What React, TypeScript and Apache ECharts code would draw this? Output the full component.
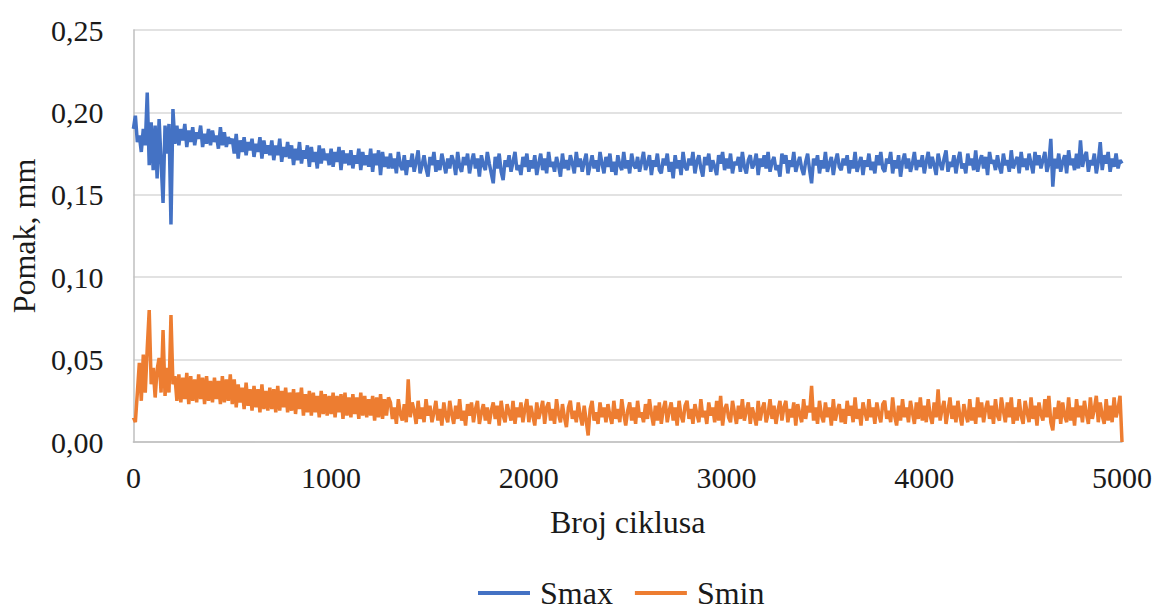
import React, { useEffect, useRef } from "react";
import * as echarts from "echarts";

// Sampling step of the readings (cycles between points)
const cycleStep = 10;

// Smax readings in micrometres (0.001 mm), one every 10 cycles, 0..5000
const smaxUm: number[] = [
  190,198,182,186,176,190,180,212,168,194,
  165,192,160,196,170,145,192,175,193,132,
  202,181,192,180,190,183,193,179,189,182,
  191,180,188,184,192,179,187,181,190,180,
  189,182,186,178,191,180,188,179,185,181,
  184,175,187,172,183,176,185,174,182,177,
  184,173,181,176,185,172,183,175,180,174,
  183,171,180,174,184,170,179,173,182,172,
  180,168,178,171,182,169,177,172,180,167,
  179,170,176,166,180,169,178,171,175,168,
  178,167,176,170,179,165,177,169,175,168,
  177,166,174,169,178,165,176,168,174,167,
  178,164,175,168,177,162,176,167,173,166,
  175,166,172,163,176,168,165,174,162,171,
  167,175,164,170,177,163,168,174,166,161,
  173,168,176,164,171,165,175,169,163,172,
  166,174,170,162,176,167,164,173,168,175,
  163,170,175,166,172,161,174,168,165,176,
  169,163,157,173,166,175,164,159,171,167,
  174,164,170,176,165,168,162,173,167,175,
  164,171,166,174,162,169,175,165,172,163,
  176,167,170,164,173,168,161,175,166,171,
  165,174,169,163,176,167,172,164,170,175,
  162,168,174,166,171,164,176,169,163,173,
  167,175,164,170,162,174,168,165,176,166,
  171,163,175,168,166,173,164,170,176,165,
  169,174,162,171,167,175,165,163,172,168,
  175,164,170,160,174,166,171,162,176,167,
  165,172,168,176,163,170,174,166,161,173,
  168,175,164,171,167,162,174,169,176,165,
  172,166,175,163,170,168,173,164,176,167,
  163,171,174,166,169,175,162,172,167,174,
  166,176,164,170,173,165,168,161,175,169,
  174,163,171,167,176,164,169,173,166,162,
  170,175,165,157,172,168,174,163,171,166,
  176,164,169,173,162,170,175,167,165,172,
  168,174,163,171,166,176,164,169,173,162,
  171,167,175,165,170,163,174,168,176,166,
  164,172,169,176,163,171,166,174,161,170,
  175,166,172,164,169,176,165,171,167,174,
  163,170,176,166,173,168,162,175,169,165,
  172,177,164,170,167,174,163,171,176,166,
  169,163,175,168,172,165,177,164,170,174,
  166,173,162,176,169,171,165,174,167,163,
  175,168,171,164,177,166,170,173,163,176,
  167,172,165,175,169,163,176,168,174,166,
  171,176,164,169,184,155,172,166,175,164,
  170,174,163,177,168,172,165,175,166,183,
  167,173,176,164,171,168,175,163,170,182,
  165,174,169,176,164,172,167,175,166,171,
  169,
];

// Smin readings in micrometres (0.001 mm), one every 10 cycles, 0..5000
const sminUm: number[] = [
  15,12,30,48,25,53,30,57,80,35,
  45,27,44,51,30,68,28,45,30,77,
  35,40,25,41,24,39,26,42,23,40,
  25,38,24,41,26,39,23,40,25,37,
  24,39,26,37,23,40,24,38,25,41,
  23,38,21,35,24,33,20,36,22,32,
  19,34,21,32,18,35,20,31,19,33,
  20,32,18,34,19,31,21,33,18,30,
  19,32,17,30,20,33,16,29,18,31,
  16,30,18,28,15,31,17,29,16,28,
  17,30,15,28,18,29,14,30,16,27,
  15,29,17,27,14,30,16,28,15,26,
  16,28,13,27,15,29,14,26,16,27,
  24,14,21,11,26,17,13,23,12,38,
  15,24,19,11,25,14,21,12,26,16,
  22,12,18,25,13,20,10,24,16,12,
  25,17,11,22,14,26,13,19,10,23,
  16,24,12,20,25,11,18,23,13,21,
  11,19,24,14,22,10,25,16,12,23,
  18,13,25,11,21,15,24,12,20,26,
  12,22,16,10,24,14,19,25,11,21,
  24,13,20,11,26,17,12,23,15,9,
  21,25,14,19,12,24,16,10,22,13,
  4,20,25,13,18,11,24,15,21,12,
  23,16,11,25,14,20,12,26,17,10,
  19,24,13,21,11,25,15,18,12,23,
  14,26,17,10,22,13,24,11,20,25,
  12,19,24,13,21,10,25,16,12,22,
  25,14,20,11,23,17,12,26,15,19,
  11,24,16,21,12,25,13,28,10,20,
  23,15,12,25,18,11,22,14,26,13,
  19,24,11,21,16,10,25,13,20,24,
  12,17,26,14,22,11,19,25,13,21,
  25,12,20,15,24,10,23,17,12,26,
  14,22,18,34,13,21,11,25,16,12,
  24,15,21,10,26,13,19,23,12,20,
  11,25,16,22,12,27,14,20,10,24,
  18,13,26,15,21,11,24,17,12,23,
  25,14,19,12,27,16,10,22,13,26,
  15,21,12,25,18,11,24,14,27,13,
  22,12,26,16,11,24,15,32,13,20,
  25,11,19,27,14,22,12,25,16,10,
  23,17,12,26,13,21,11,27,15,24,
  12,20,25,14,22,11,26,16,13,27,
  19,12,24,15,27,11,21,13,26,16,
  11,25,18,12,27,14,22,10,24,17,
  13,26,15,28,12,7,21,14,25,11,
  24,16,12,27,13,21,10,26,15,22,
  12,25,17,11,27,14,20,28,12,24,
  16,11,26,13,22,12,27,15,20,28,
  0,
];

const seriesNames = ["Smax", "Smin"];
const seriesColors = ["#4472C4", "#ED7D31"];
const xTitle = "Broj ciklusa";
const yTitle = "Pomak, mm";

const toPairs = (vals: number[]) => vals.map((v, i) => [i * cycleStep, v / 1000]);

export default function App() {
  const ref = useRef<HTMLDivElement>(null);
  useEffect(() => {
    if (!ref.current) return;
    const chart = echarts.init(ref.current, undefined, { renderer: "svg" });
    const font = "'Liberation Serif', 'Times New Roman', serif";
    const textColor = "#1a1a1a";
    chart.setOption({
      animation: false,
      backgroundColor: "#ffffff",
      textStyle: { fontFamily: font },
      grid: { left: 133, right: 34, top: 30, bottom: 170, containLabel: false },
      legend: {
        top: 577,
        left: 478,
        padding: 0,
        icon: "rect",
        itemWidth: 52,
        itemHeight: 4,
        itemGap: 22,
        textStyle: { fontFamily: font, fontSize: 32, color: textColor, padding: [0, 0, 0, 5] },
        data: seriesNames,
      },
      xAxis: {
        type: "value",
        min: 0,
        max: 5000,
        interval: 1000,
        name: xTitle,
        nameLocation: "middle",
        nameGap: 64,
        nameTextStyle: { fontFamily: font, fontSize: 32, color: textColor },
        axisLine: { show: true, lineStyle: { color: "#bfbfbf", width: 1.5 } },
        axisTick: { show: false },
        splitLine: { show: false },
        axisLabel: {
          fontFamily: font,
          fontSize: 30,
          color: textColor,
          margin: 20,
          formatter: (v: number) => String(v),
        },
      },
      yAxis: {
        type: "value",
        min: 0,
        max: 0.25,
        interval: 0.05,
        name: yTitle,
        nameLocation: "middle",
        nameGap: 91,
        nameTextStyle: { fontFamily: font, fontSize: 32, color: textColor },
        axisLine: { show: true, lineStyle: { color: "#bfbfbf", width: 1.5 } },
        axisTick: { show: false },
        splitLine: { show: true, lineStyle: { color: "#d9d9d9", width: 1.5 } },
        axisLabel: {
          fontFamily: font,
          fontSize: 30,
          color: textColor,
          margin: 30,
          formatter: (v: number) => v.toFixed(2).replace(".", ","),
        },
      },
      series: [
        {
          name: seriesNames[0],
          type: "line",
          data: toPairs(smaxUm),
          showSymbol: false,
          symbol: "none",
          color: seriesColors[0],
          lineStyle: { color: seriesColors[0], width: 3.5 },
        },
        {
          name: seriesNames[1],
          type: "line",
          data: toPairs(sminUm),
          showSymbol: false,
          symbol: "none",
          color: seriesColors[1],
          lineStyle: { color: seriesColors[1], width: 3.5 },
        },
      ],
    });
    return () => chart.dispose();
  }, []);
  return (
    <div
      ref={ref}
      style={{ position: "fixed", left: 0, top: 0, width: 1156, height: 612 }}
    />
  );
}
